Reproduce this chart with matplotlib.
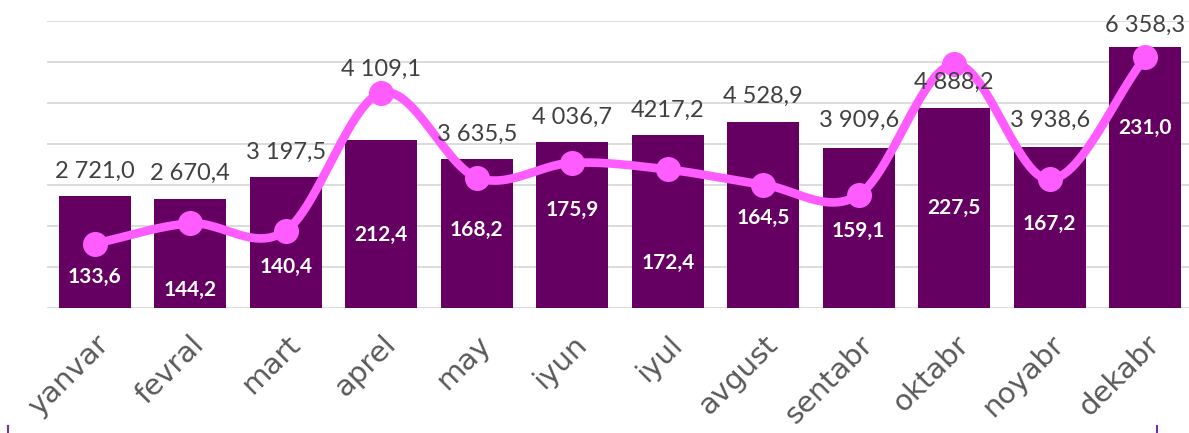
import matplotlib.pyplot as plt
import numpy as np
from matplotlib.lines import Line2D

months = ['yanvar', 'fevral', 'mart', 'aprel', 'may', 'iyun',
          'iyul', 'avgust', 'sentabr', 'oktabr', 'noyabr', 'dekabr']
bar_vals = [2721.0, 2670.4, 3197.5, 4109.1, 3635.5, 4036.7,
            4217.2, 4528.9, 3909.6, 4888.2, 3938.6, 6358.3]
line_vals = [133.6, 144.2, 140.4, 212.4, 168.2, 175.9,
             172.4, 164.5, 159.1, 227.5, 167.2, 231.0]

# label nudges (pixels), hand placed like in the original
bar_lbl_up = [25, 25, 25, 70, 25, 25, 25, 26, 27, 25, 26, 22]
line_lbl_down = [33, 67, 36, 142, 52, 47, 93, 33, 36, 144, 45, 71]

BAR_C = '#650062'
LINE_C = '#FF5CFF'


def fmt(v, thousands=True):
    s = f'{v:,.1f}'.replace(',', ' ' if thousands else '').replace('.', ',')
    return s


def catmull_rom(x, y, n=30):
    # same smoothing idea as excel's smoothed line
    px = np.concatenate([[2 * x[0] - x[1]], x, [2 * x[-1] - x[-2]]])
    py = np.concatenate([[2 * y[0] - y[1]], y, [2 * y[-1] - y[-2]]])
    xs, ys = [], []
    t = np.linspace(0, 1, n)
    for i in range(1, len(px) - 2):
        for p, out in ((px, xs), (py, ys)):
            p0, p1, p2, p3 = p[i - 1], p[i], p[i + 1], p[i + 2]
            out.extend(0.5 * (2 * p1 + (-p0 + p2) * t
                              + (2 * p0 - 5 * p1 + 4 * p2 - p3) * t ** 2
                              + (-p0 + 3 * p1 - 3 * p2 + p3) * t ** 3))
    return np.array(xs), np.array(ys)


fig = plt.figure(figsize=(11.89, 4.33), dpi=100)
ax = fig.add_axes([47 / 1189, 125 / 433, 1146 / 1189, 287 / 433])
ax.patch.set_visible(False)
x = np.arange(len(months))

ax.bar(x, bar_vals, width=0.75, color=BAR_C, zorder=2)
ax.set_ylim(0, 7000)
ax.set_xlim(-0.5, len(months) - 0.5)
ax.hlines(np.arange(0, 7001, 1000), -0.5, len(months) - 0.5,
          color='#D9D9D9', lw=1.3, zorder=0, capstyle='butt')
ax.set_yticks([])
for s in ax.spines.values():
    s.set_visible(False)

ax.set_xticks(x)
ax.set_xticklabels(months, rotation=45, ha='right', va='top',
                   rotation_mode='anchor', fontsize=21, color='#595959',
                   fontfamily='DejaVu Sans')
ax.tick_params(axis='x', length=0, pad=16)

ax2 = ax.twinx()
ax2.set_ylim(100, 250)
ax2.set_yticks([])
for s in ax2.spines.values():
    s.set_visible(False)

sx, sy = catmull_rom(x.astype(float), np.array(line_vals))
ax2.plot(sx, sy, color=LINE_C, lw=6.2, solid_capstyle='round', zorder=3)
ax2.plot(x, line_vals, 'o', color=LINE_C, ms=17, zorder=4)

for i, v in enumerate(bar_vals):
    txt = fmt(v, thousands=(i != 6))
    ax2.annotate(txt, (x[i], v), xycoords=ax.transData,
                 xytext=(0, bar_lbl_up[i]), textcoords='offset pixels',
                 ha='center', va='center', fontsize=17, color='#404040',
                 family='Lato', zorder=5)

for i, v in enumerate(line_vals):
    ax2.annotate(fmt(v), (x[i], v), xytext=(0, -line_lbl_down[i]),
                 textcoords='offset pixels', ha='center', va='center',
                 fontsize=15, color='white', fontweight='bold',
                 family='Lato', zorder=5)

# small purple marks at the bottom corners
for xp in (8, 1157):
    fig.add_artist(Line2D([xp / 1189, xp / 1189], [0, 7 / 433],
                          color='#7030A0', lw=1.5))

fig.savefig('out.png', dpi=100)
